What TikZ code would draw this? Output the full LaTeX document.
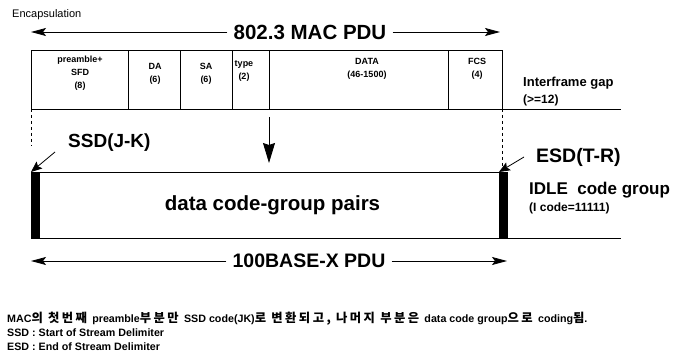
\documentclass[tikz,border=0pt]{standalone}
\usepackage{fontspec}
\setmainfont{Liberation Sans}
\newfontfamily\krfont[LetterSpace=20,Scale=1.15]{Noto Sans CJK KR}
\usetikzlibrary{arrows.meta}

\begin{document}
\begin{tikzpicture}[x=1pt,y=-1pt,
    field/.style={draw,line width=0.8pt,anchor=north west,outer sep=0pt,
                  minimum height=59pt,inner sep=0pt},
    flabel/.style={font=\fontsize{9}{13}\selectfont\bfseries,align=center},
    pdu/.style={font=\fontsize{19.5}{22}\selectfont\bfseries,inner sep=6pt},
    side/.style={font=\fontsize{13}{15}\selectfont\bfseries,anchor=west,inner sep=0pt},
    small/.style={font=\fontsize{12}{14}\selectfont\bfseries,anchor=west,inner sep=0pt},
    span/.style={line width=0.8pt,-{Stealth[length=15pt,width=8pt,inset=3pt]}},
    pointer/.style={line width=0.8pt,-{Stealth[length=11pt,width=9pt,inset=2pt]}},
    bar/.style={fill=black,draw=black},
    note/.style={font=\fontsize{10.7}{12}\selectfont\bfseries,anchor=west,inner sep=0pt}]
  \useasboundingbox (0,0) rectangle (675,352);

  %title and MAC frame span
  \node[anchor=west,inner sep=0pt,font=\fontsize{11}{13}\selectfont] (encap) at (12,15) {Encapsulation};
  \node[pdu,font=\fontsize{20.5}{24}\selectfont\bfseries] (mac) at (310,32) {802.3 MAC PDU};
  \coordinate (macL) at (31,32);
  \coordinate (macR) at (500,32);
  \draw[span] (mac.west) -- (macL);
  \draw[span] (mac.east) -- (macR);

  %draw the MAC frame fields
  \node[field,minimum width=97pt]  (pre)  at (31,50)  {};
  \node[field,minimum width=52pt]  (da)   at (128,50) {};
  \node[field,minimum width=52pt]  (sa)   at (180,50) {};
  \node[field,minimum width=37pt]  (type) at (232,50) {};
  \node[field,minimum width=179pt] (data) at (269,50) {};
  \node[field,minimum width=54pt]  (fcs)  at (448,50) {};
  \node[flabel] (preT)  at (80,73)  {preamble+\\SFD\\(8)};
  \node[flabel] (daT)   at (155,74) {DA\\(6)};
  \node[flabel] (saT)   at (206,74) {SA\\(6)};
  \node[flabel] (typeT) at (244,71) {type\\(2)};
  \node[flabel] (dataT) at (367,69) {DATA\\(46-1500)};
  \node[flabel] (fcsT)  at (477,69) {FCS\\(4)};

  %interframe gap
  \coordinate (gapEnd) at (621,109);
  \draw[line width=0.8pt] (fcs.south east) -- (gapEnd);
  \node[side] (gap) at (523,83) {Interframe gap};
  \node[small] (gapN) at (523,100) {(>=12)};

  %mapping down to the 100BASE-X stream
  \coordinate (dashL) at (31,146);
  \coordinate (dashR) at (502,168);
  \draw[dashed,line width=0.6pt] (pre.south west) -- (dashL);
  \draw[dashed,line width=0.6pt] (fcs.south east) -- (dashR);
  \coordinate (downTip) at (269,163);
  \draw[line width=0.8pt,-{Stealth[length=20pt,width=12pt,inset=2pt]}] (type.south east) ++(0,8) -- (downTip);

  %draw the code-group stream
  \node[draw,line width=0.8pt,anchor=north west,outer sep=0pt,inner sep=0pt,
        minimum width=473pt,minimum height=66pt,
        font=\fontsize{20.5}{24}\selectfont\bfseries] (pairs) at (31,172)
        {\hspace*{10pt}data code-group pairs};
  \coordinate (streamEnd) at (621,238);
  \draw[line width=0.8pt] (pairs.south east) -- (streamEnd);
  \node[bar,anchor=north west,minimum width=8pt,minimum height=66pt,inner sep=0pt] (ssdBar) at (31,172) {};
  \node[bar,anchor=north west,minimum width=8pt,minimum height=66pt,inner sep=0pt] (esdBar) at (499,172) {};

  %delimiters
  \node[pdu,anchor=west,inner sep=0pt,font=\fontsize{19}{22}\selectfont\bfseries] (ssd) at (68,143) {SSD(J-K)};
  \node[pdu,anchor=west,inner sep=0pt,font=\fontsize{19.5}{22}\selectfont\bfseries] (esd) at (536,157) {ESD(T-R)};
  \coordinate (ssdTail) at (55,152);
  \coordinate (esdTail) at (524,157);
  \draw[pointer] (ssdTail) -- (ssdBar.north west);
  \draw[pointer] (esdTail) -- (esdBar.north west);
  \node[pdu,anchor=west,inner sep=0pt,font=\fontsize{17}{20}\selectfont\bfseries] (idle) at (529,190) {IDLE\ \ code group};
  \node[small] (idleN) at (529,208) {(I code=11111)};

  %100BASE-X span
  \node[pdu] (phy) at (309,261) {100BASE-X PDU};
  \coordinate (phyL) at (31,261);
  \coordinate (phyR) at (507,261);
  \draw[span] (phy.west) -- (phyL);
  \draw[span] (phy.east) -- (phyR);

  %notes
  \node[note] (note1) at (7,319) {MAC{\krfont 의 첫번째 }preamble{\krfont 부분만 }SSD code(JK){\krfont 로 변환되고, 나머지 부분은 }data code group{\krfont 으로 }coding{\krfont 됨}.};
  \node[note] (note2) at (7,333) {SSD : Start of Stream Delimiter};
  \node[note] (note3) at (7,347) {ESD : End of Stream Delimiter};
\end{tikzpicture}
\end{document}
